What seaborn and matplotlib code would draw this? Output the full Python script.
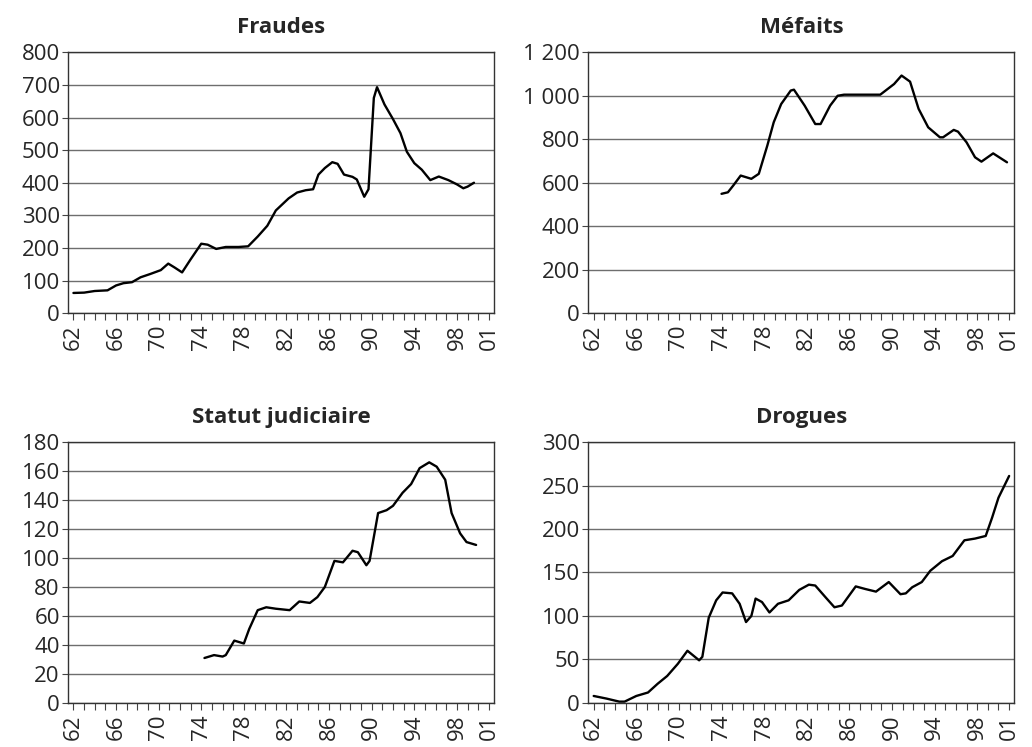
"""
Quatre séries de délits, 1962-2001 (reproduction du graphique)
"""

import matplotlib
matplotlib.use("Agg")
import matplotlib.pyplot as plt
import seaborn as sns
import pandas as pd

sns.set_theme(style="ticks")
plt.rcParams['font.family'] = ['Open Sans', 'DejaVu Sans']

# Fraudes
fraudes_years = [1962.0, 1963.0, 1964.0, 1965.2, 1966.0, 1966.7, 1967.5, 1968.3, 1969.2, 1970.2,
                 1970.9, 1971.5, 1972.2, 1973.0, 1974.0, 1974.6, 1975.4, 1976.3, 1977.5, 1978.4,
                 1979.3, 1980.2, 1981.0, 1982.2, 1983.0, 1983.8, 1984.5, 1985.0, 1985.6, 1986.3,
                 1986.8, 1987.4, 1988.2, 1988.6, 1989.3, 1989.7, 1990.2, 1990.5, 1991.2, 1992.0,
                 1992.7, 1993.3, 1994.0, 1994.7, 1995.5, 1996.3, 1997.2, 1998.0, 1998.6, 1999.0,
                 1999.6]
fraudes_values = [62, 63, 68, 70, 85, 92, 95, 110, 120, 132,
                  152, 140, 125, 165, 213, 210, 197, 203, 203, 205,
                  235, 268, 315, 352, 370, 377, 380, 425, 445, 463,
                  458, 425, 418, 410, 357, 380, 660, 693, 640, 595,
                  552, 495, 460, 440, 408, 419, 408, 395, 383, 388,
                  400]

# Méfaits
mefaits_years = [1974.0, 1974.6, 1975.1, 1975.8, 1976.8, 1977.5, 1978.3, 1978.9, 1979.6, 1980.5,
                 1980.8, 1981.8, 1982.8, 1983.3, 1984.2, 1984.9, 1985.5, 1988.9, 1990.2, 1990.9,
                 1991.7, 1992.5, 1993.4, 1994.5, 1994.8, 1995.8, 1996.2, 1997.0, 1997.8, 1998.4,
                 1999.5, 2000.8]
mefaits_values = [549, 556, 587, 633, 618, 641, 771, 878, 962, 1024,
                  1028, 955, 870, 870, 955, 1000, 1005, 1005, 1054, 1093,
                  1065, 940, 855, 809, 809, 843, 835, 786, 717, 697,
                  735, 694]

# Statut judiciaire
statut_years = [1974.3, 1975.2, 1976.0, 1976.3, 1977.1, 1978.0, 1978.5, 1979.3, 1980.1, 1981.0,
                1982.3, 1983.2, 1984.2, 1984.9, 1985.6, 1986.5, 1987.3, 1988.2, 1988.7, 1989.5,
                1989.8, 1990.6, 1991.4, 1992.0, 1992.9, 1993.7, 1994.5, 1995.4, 1996.1, 1996.9,
                1997.5, 1998.3, 1998.9, 1999.8]
statut_values = [31, 33, 32, 33, 43, 41, 51, 64, 66, 65,
                 64, 70, 69, 73, 80, 98, 97, 105, 104, 95,
                 98, 131, 133, 136, 145, 151, 162, 166, 163, 154,
                 131, 117, 111, 109]

# Drogues
drogues_years = [1962.0, 1963.2, 1964.4, 1964.9, 1966.0, 1967.1, 1968.0, 1968.9, 1969.9, 1970.8,
                 1971.9, 1972.2, 1972.8, 1973.5, 1974.1, 1975.0, 1975.7, 1976.3, 1976.8, 1977.2,
                 1977.8, 1978.5, 1979.3, 1980.3, 1981.3, 1982.2, 1982.8, 1983.8, 1984.6, 1985.3,
                 1986.6, 1987.5, 1988.5, 1989.7, 1990.8, 1991.3, 1991.9, 1992.8, 1993.6, 1994.7,
                 1995.7, 1996.8, 1997.8, 1998.8, 1999.4, 2000.0, 2001.0]
drogues_values = [8, 5, 1.5, 1.5, 8, 12, 22, 31, 45, 60,
                  49, 53, 98, 118, 127, 126, 114, 93, 100, 120,
                  116, 104, 114, 118, 130, 136, 135, 121, 110, 112,
                  134, 131, 128, 139, 125, 126, 133, 139, 152, 163,
                  169, 187, 189, 192, 213, 236, 261]

titles = ['Fraudes', 'Méfaits', 'Statut judiciaire', 'Drogues']
series = [(fraudes_years, fraudes_values), (mefaits_years, mefaits_values),
          (statut_years, statut_values), (drogues_years, drogues_values)]
y_ticks = [list(range(0, 801, 100)), list(range(0, 1201, 200)),
           list(range(0, 181, 20)), list(range(0, 301, 50))]
y_ticklabels = [[str(v) for v in y_ticks[0]],
                ['0', '200', '400', '600', '800', '1 000', '1 200'],
                [str(v) for v in y_ticks[2]],
                [str(v) for v in y_ticks[3]]]
x_label_years = [1962, 1966, 1970, 1974, 1978, 1982, 1986, 1990, 1994, 1998, 2001]
x_labels = ['62', '66', '70', '74', '78', '82', '86', '90', '94', '98', '01']


def main():
    fig, axes = plt.subplots(2, 2, figsize=(10.32, 7.47), dpi=100)
    fig.subplots_adjust(left=0.066, right=0.983, top=0.930, bottom=0.059,
                        wspace=0.221, hspace=0.494)

    for ax, title, (xs, ys), yt, ytl in zip(axes.flat, titles, series, y_ticks, y_ticklabels):
        df = pd.DataFrame({'Year': xs, 'Value': ys})
        sns.lineplot(data=df, x='Year', y='Value', ax=ax, color='black', linewidth=1.7)

        ax.set_title(title, fontweight='bold', fontsize=16, pad=14)
        ax.set_xlabel('')
        ax.set_ylabel('')

        ax.set_xlim(1961.5, 2001.5)
        ax.set_xticks(x_label_years)
        ax.set_xticklabels(x_labels, rotation=90, fontsize=16)
        ax.set_xticks(range(1962, 2002), minor=True)
        ax.tick_params(axis='x', which='both', length=5, width=0.8, color='#444444', pad=3)

        ax.set_ylim(yt[0], yt[-1])
        ax.set_yticks(yt)
        ax.set_yticklabels(ytl, fontsize=16)
        ax.tick_params(axis='y', length=4, width=0.8, color='#444444', pad=2)

        ax.yaxis.grid(True, color='#6e6e6e', linewidth=1.0)
        ax.xaxis.grid(False)
        for side in ['top', 'right', 'left', 'bottom']:
            ax.spines[side].set_visible(True)
            ax.spines[side].set_color('#333333')
            ax.spines[side].set_linewidth(1.0)

    plt.savefig('out.png', dpi=100)
    plt.close()


if __name__ == "__main__":
    main()
